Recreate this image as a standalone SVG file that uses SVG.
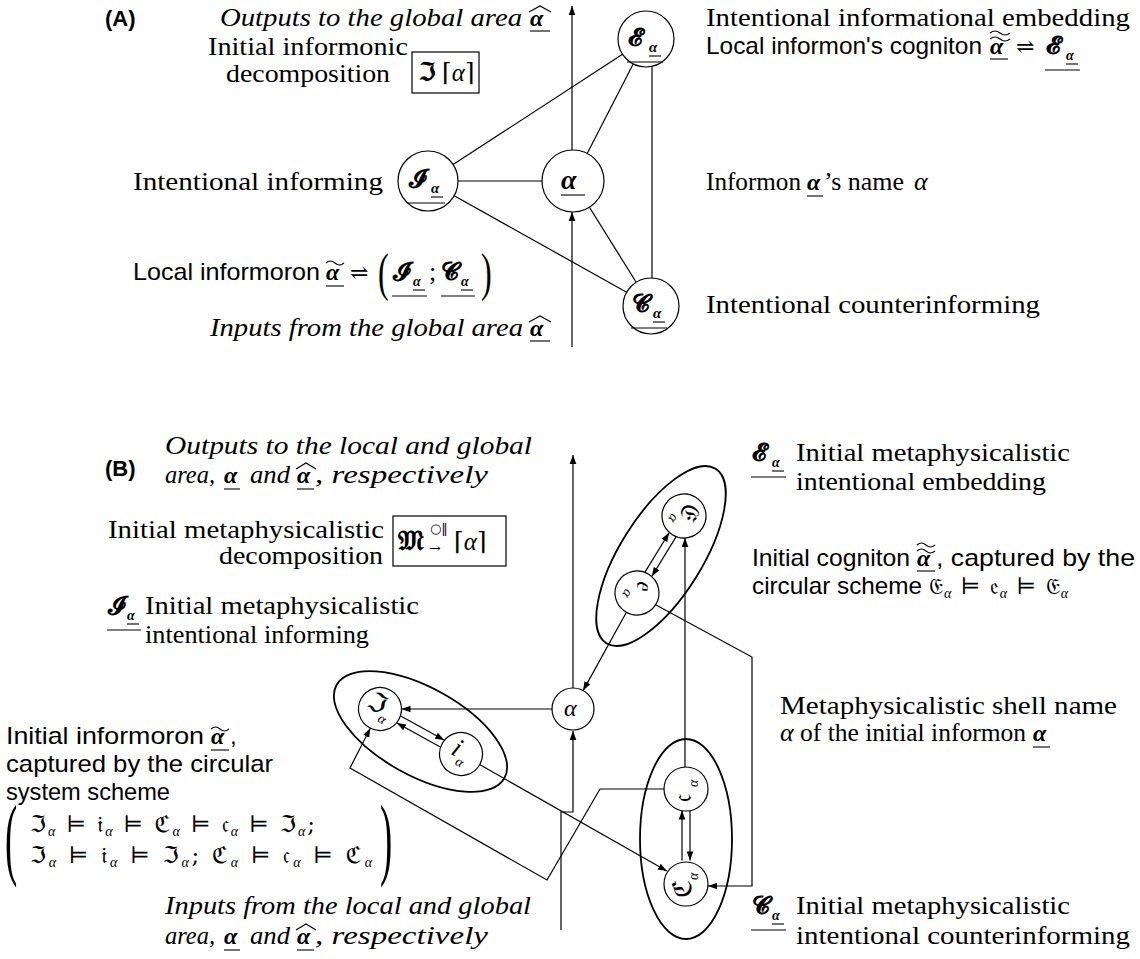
<svg xmlns="http://www.w3.org/2000/svg" width="1140" height="959" viewBox="0 0 1140 959">
<style>
text{fill:#000}
.s{font-family:"Liberation Serif","DejaVu Serif",serif;font-size:26px}
.si{font-family:"Liberation Serif","DejaVu Serif",serif;font-size:26px;font-style:italic}
.ss{font-family:"Liberation Sans","DejaVu Sans",sans-serif;font-size:24px}
.lb{font-family:"Liberation Sans","DejaVu Sans",sans-serif;font-size:22px;font-weight:bold}
.ba{font-family:"Liberation Serif","DejaVu Serif",serif;font-weight:bold;font-style:italic;font-size:24px}
.ma{font-family:"Liberation Serif","DejaVu Serif",serif;font-style:italic}
.m{font-family:"DejaVu Serif",serif;font-size:22px}
.cal{font-family:"DejaVu Serif","DejaVu Sans",serif;font-weight:bold;font-size:25px}
.fr{font-family:"DejaVu Serif","DejaVu Sans",serif;font-size:26px}
.ln{stroke:#000;stroke-width:1.2;fill:none}
.ar{stroke:#000;stroke-width:1.2;fill:none;marker-end:url(#ah)}
.nd{fill:#fff;stroke:#000;stroke-width:1.2}
.el{fill:none;stroke:#000;stroke-width:1.8}
.ul{stroke:#000;stroke-width:1.1;fill:none}
.bx{fill:none;stroke:#000;stroke-width:1.2}
</style>
<defs>
<marker id="ah" viewBox="0 0 10 10" refX="10" refY="5" markerWidth="9" markerHeight="9" orient="auto" markerUnits="userSpaceOnUse"><path d="M0,1.3 L10,5 L0,8.7 z" fill="#000"/></marker>
</defs>

<!-- ===== Part A ===== -->
<g id="connectors-a">
<line class="ln" x1="453.1" y1="164.6" x2="622.5" y2="54.3"/>
<line class="ln" x1="458" y1="181" x2="542" y2="181"/>
<line class="ln" x1="454.2" y1="195.7" x2="626.6" y2="292.3"/>
<line class="ln" x1="587.2" y1="153.4" x2="633.2" y2="64.1"/>
<line class="ln" x1="589.4" y1="207.3" x2="636.2" y2="282.2"/>
<line class="ln" x1="652" y1="66.3" x2="652" y2="278"/>
<line class="ar" x1="572" y1="347" x2="572" y2="212"/>
<line class="ar" x1="572" y1="150" x2="572" y2="6"/>
</g>

<g id="label-a">
<text class="lb" x="105" y="26">(A)</text>
</g>

<g id="outputs-a">
<text class="si" x="220" y="26" textLength="302" lengthAdjust="spacingAndGlyphs">Outputs to the global area</text>
<text class="ba" x="530" y="26">α</text>
<path class="ul" d="M529,12 L540,6 L551,12"/>
<line class="ul" x1="530" y1="31" x2="550" y2="31"/>
</g>

<g id="decomp-a">
<text class="s" x="208" y="55" textLength="200" lengthAdjust="spacingAndGlyphs">Initial informonic</text>
<text class="s" x="226" y="82" textLength="164" lengthAdjust="spacingAndGlyphs">decomposition</text>
<rect class="bx" x="412" y="52" width="67" height="41"/>
<text class="fr" x="418" y="81" style="font-weight:bold">ℑ</text>
<text class="m" x="442" y="81" style="font-size:25px">⌈<tspan class="ma">α</tspan>⌉</text>
</g>

<g id="node-E-a">
<circle class="nd" cx="646" cy="39" r="28"/>
<text class="cal" x="628" y="46">𝓔</text>
<text class="ba" x="649" y="52" style="font-size:15px">α</text>
<line class="ul" x1="649" y1="56" x2="661" y2="56"/>
<line class="ul" x1="627" y1="62" x2="663" y2="62"/>
</g>

<g id="node-I-a">
<circle class="nd" cx="428" cy="181" r="30"/>
<text class="cal" x="409" y="187">𝓘</text>
<text class="ba" x="431" y="193" style="font-size:15px">α</text>
<line class="ul" x1="431" y1="197" x2="443" y2="197"/>
<line class="ul" x1="408" y1="203" x2="445" y2="203"/>
</g>

<g id="node-alpha-a">
<circle class="nd" cx="573" cy="181" r="31"/>
<text class="ba" x="561" y="189" style="font-size:28px">α</text>
<line class="ul" x1="561" y1="195" x2="585" y2="195"/>
</g>

<g id="node-C-a">
<circle class="nd" cx="651" cy="306" r="28"/>
<text class="cal" x="632" y="312">𝓒</text>
<text class="ba" x="653" y="318" style="font-size:15px">α</text>
<line class="ul" x1="653" y1="322" x2="665" y2="322"/>
<line class="ul" x1="631" y1="328" x2="667" y2="328"/>
</g>

<g id="texts-a-right">
<text class="s" x="706" y="26" textLength="424" lengthAdjust="spacingAndGlyphs">Intentional informational embedding</text>
<text class="ss" x="706" y="54" textLength="276" lengthAdjust="spacingAndGlyphs">Local informon's cogniton</text>
<text class="ba" x="990" y="54">α</text>
<path class="ul" d="M990,39 q5,-4 10,0 t10,0 M990,33 q5,-4 10,0 t10,0"/>
<line class="ul" x1="990" y1="59" x2="1008" y2="59"/>
<text class="m" x="1016" y="54">⇌</text>
<text class="cal" x="1046" y="54">𝓔</text>
<text class="ba" x="1066" y="60" style="font-size:14px">α</text>
<line class="ul" x1="1066" y1="64" x2="1078" y2="64"/>
<line class="ul" x1="1045" y1="70" x2="1080" y2="70"/>

<text class="s" x="706" y="190" textLength="95" lengthAdjust="spacingAndGlyphs">Informon</text>
<text class="ba" x="807" y="190">α</text>
<line class="ul" x1="807" y1="196" x2="823" y2="196"/>
<text class="s" x="824" y="190" textLength="80" lengthAdjust="spacingAndGlyphs">’s name</text>
<text class="si" x="914" y="190">α</text>

<text class="s" x="706" y="313" textLength="334" lengthAdjust="spacingAndGlyphs">Intentional counterinforming</text>
</g>

<g id="texts-a-left">
<text class="s" x="133" y="190" textLength="250" lengthAdjust="spacingAndGlyphs">Intentional informing</text>
<text class="ss" x="133" y="280" textLength="187" lengthAdjust="spacingAndGlyphs">Local informoron</text>
<text class="ba" x="326" y="280">α</text>
<path class="ul" d="M326,263 q4.5,-4 9,0 t9,0"/>
<line class="ul" x1="326" y1="286" x2="344" y2="286"/>
<text class="m" x="350" y="280">⇌</text>
<text class="s" transform="translate(378,290) scale(0.62,1)" style="font-size:52px">(</text>
<text class="cal" x="393" y="280">𝓘</text>
<text class="ba" x="413" y="286" style="font-size:14px">α</text>
<line class="ul" x1="413" y1="290" x2="425" y2="290"/>
<line class="ul" x1="392" y1="296" x2="427" y2="296"/>
<text class="s" x="429" y="280">;</text>
<text class="cal" x="441" y="280">𝓒</text>
<text class="ba" x="461" y="286" style="font-size:14px">α</text>
<line class="ul" x1="461" y1="290" x2="473" y2="290"/>
<line class="ul" x1="441" y1="296" x2="475" y2="296"/>
<text class="s" transform="translate(481,290) scale(0.62,1)" style="font-size:52px">)</text>

<text class="si" x="210" y="336" textLength="313" lengthAdjust="spacingAndGlyphs">Inputs from the global area</text>
<text class="ba" x="530" y="336">α</text>
<path class="ul" d="M529,322 L540,316 L551,322"/>
<line class="ul" x1="530" y1="341" x2="550" y2="341"/>
</g>

<!-- ===== Part B ===== -->
<g id="shells">
<ellipse class="el" cx="420.5" cy="731.5" rx="96" ry="44" transform="rotate(29 420.5 731.5)"/>
<ellipse class="el" cx="661" cy="556" rx="103" ry="41" transform="rotate(-58 661 556)"/>
<ellipse class="el" cx="686" cy="839" rx="46" ry="100"/>
</g>

<g id="connectors-b">
<line class="ar" x1="573" y1="688" x2="573" y2="455"/>
<path class="ar" d="M561,930 V812 H573 V731"/>
<line class="ar" x1="552" y1="709" x2="401.5" y2="709"/>
<line class="ar" x1="400.7" y1="716" x2="444.1" y2="740.1"/>
<line class="ar" x1="440.3" y1="747.1" x2="396.9" y2="723"/>
<line class="ar" x1="479.7" y1="764.6" x2="666.9" y2="871.1"/>
<path class="ar" d="M664,789 H600 L547,880 L350,768 L370.3,728.2"/>
<line class="ar" x1="626.4" y1="612.3" x2="583.1" y2="690.6"/>
<path class="ar" d="M655.6,604.7 L752,657 V886 H708"/>
<line class="ar" x1="685" y1="767" x2="685" y2="538"/>
<line class="ar" x1="645" y1="572.1" x2="669.1" y2="532.7"/>
<line class="ar" x1="676" y1="536.9" x2="651.9" y2="576.3"/>
<line class="ar" x1="682" y1="860.4" x2="682" y2="810.6"/>
<line class="ar" x1="690" y1="810.6" x2="690" y2="860.4"/>
</g>

<g id="node-alpha-b">
<circle class="nd" cx="573" cy="709" r="21"/>
<text class="si" x="564" y="716" style="font-size:24px">α</text>
</g>
<g id="node-Ia-b" transform="translate(380,709) rotate(29)">
<circle class="nd" cx="0" cy="0" r="21.5"/>
<text class="fr" x="-14" y="5">ℑ</text>
<text class="ma" x="3" y="12" style="font-size:14px">α</text>
</g>
<g id="node-ia-b" transform="translate(461,754) rotate(29)">
<circle class="nd" cx="0" cy="0" r="21.5"/>
<text class="ma" x="-10" y="5" style="font-size:27px">i</text>
<text class="ma" x="-1" y="12" style="font-size:14px">α</text>
</g>
<g id="node-Ea-b" transform="translate(684,516) rotate(122)">
<circle class="nd" cx="0" cy="0" r="22"/>
<text class="fr" x="-14" y="5">𝔈</text>
<text class="ma" x="4" y="12" style="font-size:14px">α</text>
</g>
<g id="node-ea-b" transform="translate(637,593) rotate(122)">
<circle class="nd" cx="0" cy="0" r="22"/>
<text class="fr" x="-13" y="5">𝔢</text>
<text class="ma" x="2" y="12" style="font-size:14px">α</text>
</g>
<g id="node-ca-b" transform="translate(686,789) rotate(-90)">
<circle class="nd" cx="0" cy="0" r="22"/>
<text class="fr" x="-13" y="5">𝔠</text>
<text class="ma" x="2" y="12" style="font-size:14px">α</text>
</g>
<g id="node-Ca-b" transform="translate(686,884) rotate(-90)">
<circle class="nd" cx="0" cy="0" r="22"/>
<text class="fr" x="-14" y="5">ℭ</text>
<text class="ma" x="4" y="12" style="font-size:14px">α</text>
</g>

<g id="label-b">
<text class="lb" x="105" y="476">(B)</text>
</g>

<g id="outputs-b">
<text class="si" x="165" y="454" textLength="367" lengthAdjust="spacingAndGlyphs">Outputs to the local and global</text>
<text class="si" x="165" y="483" textLength="50" lengthAdjust="spacingAndGlyphs">area,</text>
<text class="ba" x="224" y="483">α</text>
<line class="ul" x1="224" y1="489" x2="240" y2="489"/>
<text class="si" x="250" y="483" textLength="40" lengthAdjust="spacingAndGlyphs">and</text>
<text class="ba" x="297" y="483">α</text>
<path class="ul" d="M296,469 L306,463 L316,469"/>
<line class="ul" x1="297" y1="489" x2="314" y2="489"/>
<text class="si" x="315" y="483" textLength="173" lengthAdjust="spacingAndGlyphs">, respectively</text>
</g>

<g id="decomp-b">
<text class="s" x="108" y="538" textLength="276" lengthAdjust="spacingAndGlyphs">Initial metaphysicalistic</text>
<text class="s" x="219" y="564" textLength="164" lengthAdjust="spacingAndGlyphs">decomposition</text>
<rect class="bx" x="393" y="516" width="113" height="50"/>
<text class="fr" x="398" y="550" style="font-size:28px;font-weight:bold">𝔐</text>
<text class="m" x="430" y="533" style="font-size:13px">○‖</text>
<text class="m" x="429" y="553" style="font-size:14px">→</text>
<text class="m" x="454" y="550" style="font-size:25px">⌈<tspan class="ma">α</tspan>⌉</text>
</g>

<g id="text-I-b">
<text class="cal" x="108" y="614">𝓘</text>
<text class="ba" x="127" y="620" style="font-size:14px">α</text>
<line class="ul" x1="127" y1="624" x2="139" y2="624"/>
<line class="ul" x1="107" y1="630" x2="141" y2="630"/>
<text class="s" x="145" y="614" textLength="274" lengthAdjust="spacingAndGlyphs">Initial metaphysicalistic</text>
<text class="s" x="145" y="643" textLength="224" lengthAdjust="spacingAndGlyphs">intentional informing</text>
</g>

<g id="text-E-b">
<text class="cal" x="752" y="461">𝓔</text>
<text class="ba" x="772" y="467" style="font-size:14px">α</text>
<line class="ul" x1="772" y1="471" x2="784" y2="471"/>
<line class="ul" x1="751" y1="477" x2="786" y2="477"/>
<text class="s" x="796" y="461" textLength="274" lengthAdjust="spacingAndGlyphs">Initial metaphysicalistic</text>
<text class="s" x="796" y="490" textLength="250" lengthAdjust="spacingAndGlyphs">intentional embedding</text>
</g>

<g id="text-cogniton-b">
<text class="ss" x="752" y="566" textLength="158" lengthAdjust="spacingAndGlyphs">Initial cogniton</text>
<text class="ba" x="917" y="566">α</text>
<path class="ul" d="M917,551 q4.5,-4 9,0 t9,0 M917,545 q4.5,-4 9,0 t9,0"/>
<line class="ul" x1="917" y1="571" x2="935" y2="571"/>
<text class="ss" x="936" y="566" textLength="199" lengthAdjust="spacingAndGlyphs">, captured by the</text>
<text class="ss" x="752" y="594" textLength="170" lengthAdjust="spacingAndGlyphs">circular scheme</text>
<text class="fr" x="929" y="594" textLength="139" lengthAdjust="spacing" style="font-size:23px">𝔈<tspan class="ma" style="font-size:14px" dy="4">α</tspan><tspan dy="-4"> ⊨ 𝔢</tspan><tspan class="ma" style="font-size:14px" dy="4">α</tspan><tspan dy="-4"> ⊨ 𝔈</tspan><tspan class="ma" style="font-size:14px" dy="4">α</tspan></text>
</g>

<g id="text-shell-b">
<text class="s" x="780" y="714" textLength="337" lengthAdjust="spacingAndGlyphs">Metaphysicalistic shell name</text>
<text class="si" x="780" y="741">α</text>
<text class="s" x="800" y="741" textLength="226" lengthAdjust="spacingAndGlyphs">of the initial informon</text>
<text class="ba" x="1033" y="741">α</text>
<line class="ul" x1="1033" y1="747" x2="1050" y2="747"/>
</g>

<g id="text-informoron-b">
<text class="ss" x="6" y="744" textLength="198" lengthAdjust="spacingAndGlyphs">Initial informoron</text>
<text class="ba" x="211" y="744">α</text>
<path class="ul" d="M211,729 q4.5,-4 9,0 t9,0"/>
<line class="ul" x1="211" y1="750" x2="229" y2="750"/>
<text class="ss" x="230" y="744">,</text>
<text class="ss" x="6" y="772" textLength="267" lengthAdjust="spacingAndGlyphs">captured by the circular</text>
<text class="ss" x="6" y="800" textLength="164" lengthAdjust="spacingAndGlyphs">system scheme</text>
<text class="s" style="font-size:92px" transform="translate(5,868) scale(0.4,1)">(</text>
<text class="fr" x="30" y="832" textLength="285" lengthAdjust="spacing" style="font-size:23px">ℑ<tspan class="ma" style="font-size:14px" dy="4">α</tspan><tspan dy="-4"> ⊨ 𝔦</tspan><tspan class="ma" style="font-size:14px" dy="4">α</tspan><tspan dy="-4"> ⊨ ℭ</tspan><tspan class="ma" style="font-size:14px" dy="4">α</tspan><tspan dy="-4"> ⊨ 𝔠</tspan><tspan class="ma" style="font-size:14px" dy="4">α</tspan><tspan dy="-4"> ⊨ ℑ</tspan><tspan class="ma" style="font-size:14px" dy="4">α</tspan><tspan dy="-4">;</tspan></text>
<text class="fr" x="30" y="863" textLength="342" lengthAdjust="spacing" style="font-size:23px">ℑ<tspan class="ma" style="font-size:14px" dy="4">α</tspan><tspan dy="-4"> ⊨ 𝔦</tspan><tspan class="ma" style="font-size:14px" dy="4">α</tspan><tspan dy="-4"> ⊨ ℑ</tspan><tspan class="ma" style="font-size:14px" dy="4">α</tspan><tspan dy="-4">; ℭ</tspan><tspan class="ma" style="font-size:14px" dy="4">α</tspan><tspan dy="-4"> ⊨ 𝔠</tspan><tspan class="ma" style="font-size:14px" dy="4">α</tspan><tspan dy="-4"> ⊨ ℭ</tspan><tspan class="ma" style="font-size:14px" dy="4">α</tspan></text>
<text class="s" style="font-size:92px" transform="translate(380,868) scale(0.4,1)">)</text>
</g>

<g id="inputs-b">
<text class="si" x="165" y="914" textLength="366" lengthAdjust="spacingAndGlyphs">Inputs from the local and global</text>
<text class="si" x="165" y="944" textLength="50" lengthAdjust="spacingAndGlyphs">area,</text>
<text class="ba" x="224" y="944">α</text>
<line class="ul" x1="224" y1="950" x2="240" y2="950"/>
<text class="si" x="250" y="944" textLength="40" lengthAdjust="spacingAndGlyphs">and</text>
<text class="ba" x="297" y="944">α</text>
<path class="ul" d="M296,930 L306,924 L316,930"/>
<line class="ul" x1="297" y1="950" x2="314" y2="950"/>
<text class="si" x="315" y="944" textLength="173" lengthAdjust="spacingAndGlyphs">, respectively</text>
</g>

<g id="text-C-b">
<text class="cal" x="752" y="914">𝓒</text>
<text class="ba" x="772" y="920" style="font-size:14px">α</text>
<line class="ul" x1="772" y1="924" x2="784" y2="924"/>
<line class="ul" x1="751" y1="930" x2="786" y2="930"/>
<text class="s" x="796" y="914" textLength="274" lengthAdjust="spacingAndGlyphs">Initial metaphysicalistic</text>
<text class="s" x="796" y="944" textLength="334" lengthAdjust="spacingAndGlyphs">intentional counterinforming</text>
</g>
</svg>
